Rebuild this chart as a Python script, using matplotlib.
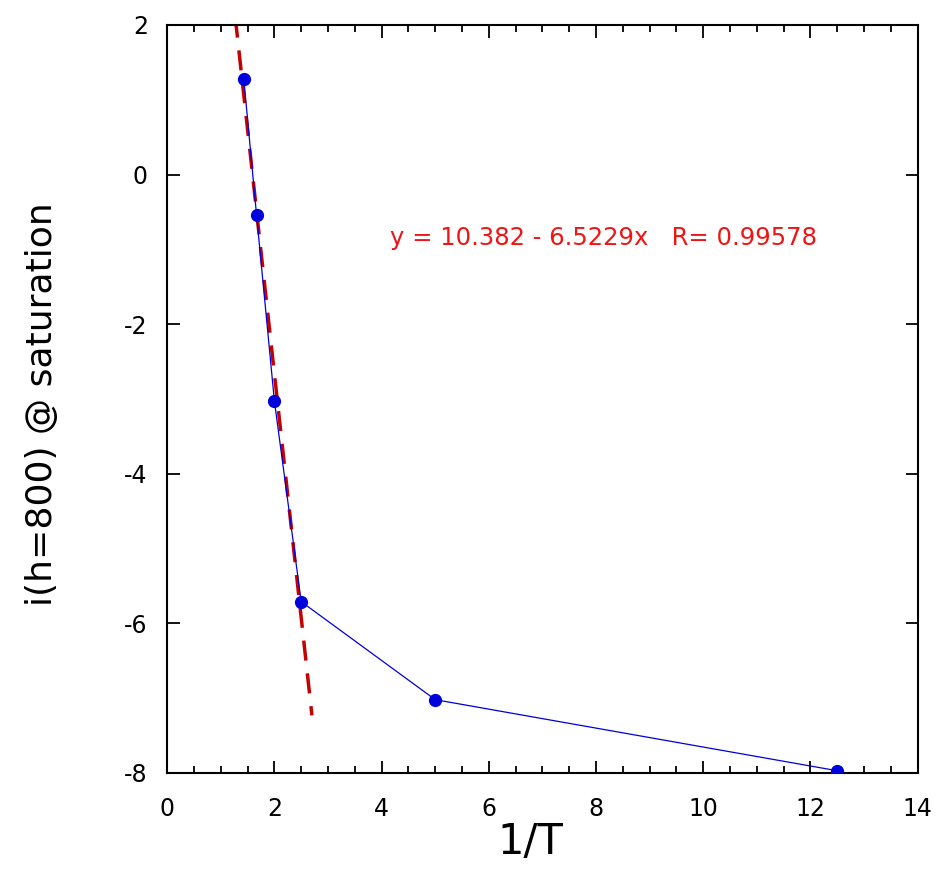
import numpy as np
import matplotlib
matplotlib.use("Agg")
import matplotlib.pyplot as plt
from matplotlib.ticker import MultipleLocator

plt.rcParams['axes.unicode_minus'] = False

# dati
inv_T = [1.4286, 1.6667, 2.0, 2.5, 5.0, 12.5]
i_sat = [1.28, -0.54, -3.03, -5.71, -7.02, -7.97]

# retta di fit
a, b = 10.382, -6.5229
x_fit = np.array([1.27, 2.70])
y_fit = a + b * x_fit

fig = plt.figure(figsize=(9.5, 8.77), dpi=100)
ax = fig.add_axes([0.176, 0.1186, 0.79, 0.853])

ax.plot(x_fit, y_fit, '--', color='#c40000', lw=2.5, dashes=(5.8, 3.7), zorder=2)
ax.plot(inv_T, i_sat, '-', color='#0000dd', lw=0.9, marker='o', markersize=8.5,
        markerfacecolor='#0000dd', markeredgecolor='#0000dd', zorder=3)

ax.text(4.16, -0.85, 'y = 10.382 - 6.5229x   R= 0.99578', color='#f01414',
        fontsize=17.5, va='center', ha='left')

ax.set_xlim(0, 14)
ax.set_ylim(-8, 2)
ax.xaxis.set_major_locator(MultipleLocator(2))
ax.xaxis.set_minor_locator(MultipleLocator(0.5))
ax.yaxis.set_major_locator(MultipleLocator(2))

ax.tick_params(which='both', direction='in', top=True, right=True, width=1.3)
ax.tick_params(which='major', length=9, labelsize=17)
ax.tick_params(axis='x', which='major', pad=17)
ax.tick_params(axis='y', which='major', pad=14)
ax.tick_params(which='minor', length=5)
for s in ax.spines.values():
    s.set_linewidth(1.5)

ax.set_xlabel('1/T', fontsize=30, labelpad=0, x=0.484)
ax.set_ylabel('i(h=800) @ saturation', fontsize=26, labelpad=47, y=0.493)

plt.savefig("out.png", dpi=100)
plt.close()
